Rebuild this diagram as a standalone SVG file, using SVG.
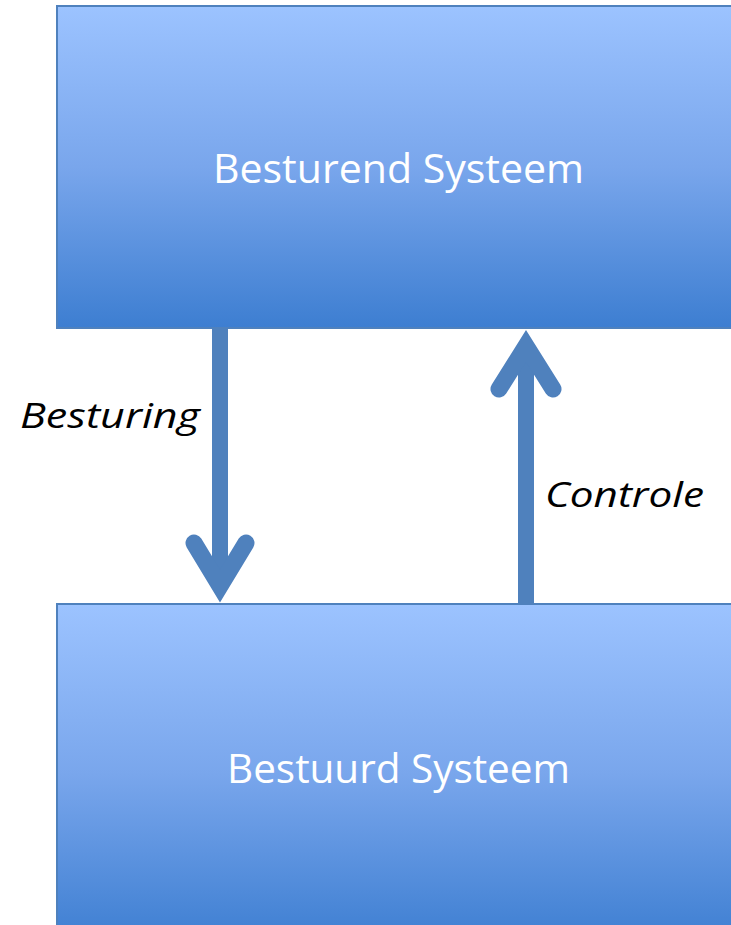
<svg xmlns="http://www.w3.org/2000/svg" width="731" height="925" viewBox="0 0 731 925">
  <defs>
    <linearGradient id="boxGrad" x1="0" y1="0" x2="0" y2="1">
      <stop offset="0" stop-color="#9cc3ff"/>
      <stop offset="0.5" stop-color="#79a6ec"/>
      <stop offset="1" stop-color="#3d7ed1"/>
    </linearGradient>
  </defs>
  <style>
    .box { fill: url(#boxGrad); stroke: #4f81bd; stroke-width: 2; }
    .boxText { font-family: "Open Sans", "Liberation Sans", sans-serif; font-size: 40px; fill: #ffffff; }
    .label { font-family: "Open Sans", "Liberation Sans", sans-serif; font-size: 35px; font-style: italic; fill: #000000; }
    .shaft { stroke: #4f81bd; stroke-width: 16; fill: none; }
    .head { stroke: #4f81bd; stroke-width: 17; fill: none; stroke-linecap: round; stroke-linejoin: miter; stroke-miterlimit: 10; }
  </style>
  <rect width="731" height="925" fill="#ffffff"/>
  <g id="besturend">
    <rect class="box" x="57" y="6" width="690" height="322"/>
    <text class="boxText" x="213" y="183" textLength="371" lengthAdjust="spacingAndGlyphs">Besturend Systeem</text>
  </g>
  <g id="bestuurd">
    <rect class="box" x="57" y="604" width="690" height="340"/>
    <text class="boxText" x="227" y="783" textLength="343" lengthAdjust="spacingAndGlyphs">Bestuurd Systeem</text>
  </g>
  <g id="connectors">
    <g id="besturing-arrow">
      <line class="shaft" x1="220" y1="329" x2="220" y2="585"/>
      <path class="head" d="M194,543 L220,586 L246,543"/>
      <text class="label" x="20" y="428" textLength="180" lengthAdjust="spacingAndGlyphs">Besturing</text>
    </g>
    <g id="controle-arrow">
      <line class="shaft" x1="526" y1="603" x2="526" y2="347"/>
      <path class="head" d="M499,389 L526,346 L553,389"/>
      <text class="label" x="545" y="507" textLength="159" lengthAdjust="spacingAndGlyphs">Controle</text>
    </g>
  </g>
</svg>
